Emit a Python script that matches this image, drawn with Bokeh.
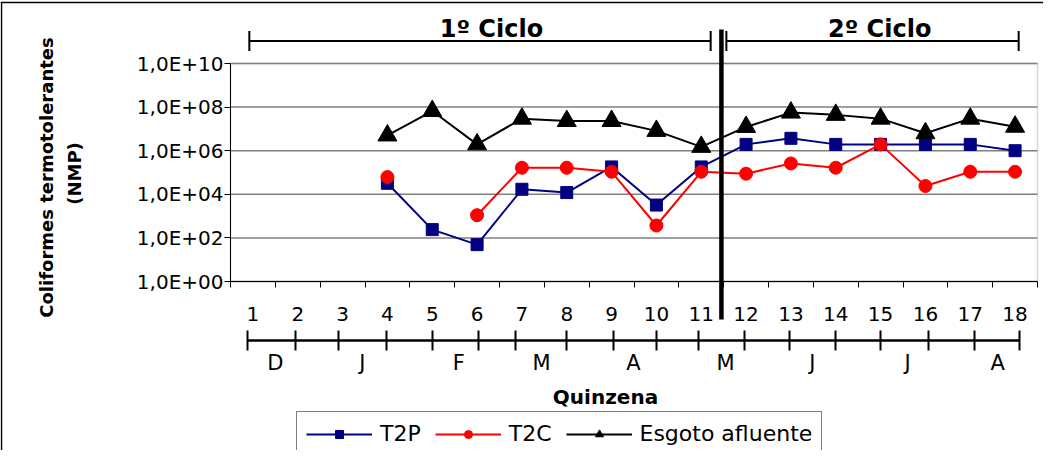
import math
from bokeh.plotting import figure
from bokeh.models import (Range1d, FixedTicker, CustomJSTickFormatter, Label, LinearAxis,
                          ColumnDataSource, Arrow, TeeHead, Legend, LegendItem, BoxAnnotation)
from bokeh.embed import file_html
from bokeh.resources import INLINE

# ---------------- data ----------------
quinzenas = list(range(1, 19))
quinzena_labels = [str(q) for q in quinzenas]
t2p = [None, None, None, 3.2e4, 2.4e2, 49, 1.7e4, 1.2e4, 1.8e5, 3.2e3, 1.8e5,
       1.95e6, 3.7e6, 1.95e6, 1.95e6, 1.95e6, 1.95e6, 1.0e6]
t2c = [None, None, None, 6.2e4, None, 1.1e3, 1.65e5, 1.65e5, 1.08e5, 3.7e2, 1.08e5,
       8.8e4, 2.6e5, 1.65e5, 1.95e6, 2.4e4, 1.08e5, 1.08e5]
esgoto = [None, None, None, 5.0e6, 6.6e7, 1.95e6, 2.95e7, 2.3e7, 2.3e7, 8.1e6, 1.5e6,
          1.23e7, 5.6e7, 4.4e7, 2.95e7, 6.3e6, 2.95e7, 1.26e7]
series_names = ["T2P", "T2C", "Esgoto afluente"]
y_tick_values = [1, 1e2, 1e4, 1e6, 1e8, 1e10]
y_tick_labels = ["1,0E+00", "1,0E+02", "1,0E+04", "1,0E+06", "1,0E+08", "1,0E+10"]
month_labels = ["D", "J", "F", "M", "A", "M", "J", "J", "A"]
month_label_pos = [1.50, 3.44, 5.59, 7.44, 9.49, 11.54, 13.48, 15.60, 17.61]
month_tick_pos = [0.88, 1.95, 2.91, 3.98, 5.01, 6.03, 6.86, 8.00, 9.04, 10.00,
                  10.94, 11.97, 12.97, 14.00, 15.00, 16.07, 17.10, 18.10]
cycle_labels = ["1º Ciclo", "2º Ciclo"]
cycle_label_pos = [6.32, 14.98]
cycle_spans = [(0.92, 11.21), (11.56, 18.08)]
cycle_divider = 11.45

# ---------------- layout helpers (screenshot px -> data) ----------------
W, H, PAGE = 1043, 450, 8
FL, FR, FT, FB = 238, 1045, 71, 289   # plot area edges in screenshot px


def xd(px):
    return 0.5 + (px - FL) * 18.0 / (FR - FL)


def yd(py):
    return 10 ** (10.0 * (FB - py) / (FB - FT))


def nan(v):
    return [float("nan") if x is None else x for x in v]


def lin_fmt(vals, labs):
    return CustomJSTickFormatter(args=dict(vals=vals, labs=labs), code="""
let best = -1, bd = 1e9;
for (let i = 0; i < vals.length; i++) {
  const d = Math.abs(vals[i] - tick);
  if (d < bd) { bd = d; best = i; }
}
return bd < 1e-6 ? labs[best] : "";
""")


def log_fmt(vals, labs):
    return CustomJSTickFormatter(args=dict(vals=vals, labs=labs), code="""
let best = -1, bd = 1e9;
for (let i = 0; i < vals.length; i++) {
  const d = Math.abs(Math.log10(vals[i]) - Math.log10(tick));
  if (d < bd) { bd = d; best = i; }
}
return bd < 1e-6 ? labs[best] : "";
""")


src = ColumnDataSource(dict(x=quinzenas, t2p=nan(t2p), t2c=nan(t2c), esg=nan(esgoto)))

# the frame covers the whole canvas; the plot area is 0.5..18.5 x 1..1e10
p = figure(width=W, height=H, output_backend="svg", toolbar_location=None,
           x_range=Range1d(xd(PAGE), xd(PAGE + W)),
           y_range=Range1d(yd(PAGE + H), yd(PAGE)), y_axis_type="log",
           min_border=0, background_fill_color="white", border_fill_color="white",
           outline_line_color=None)
p.xgrid.visible = False
p.ygrid.visible = False

# plot-area border and horizontal gridlines
p.add_layout(BoxAnnotation(left=0.5, right=18.5, bottom=1, top=1e10, fill_alpha=0,
                           line_color="#808080", line_width=1.5, level="underlay"))
p.segment(x0=0.5, x1=18.5, y0=y_tick_values, y1=y_tick_values,
          line_color="#808080", line_width=1.5)

# y axis
ya = p.yaxis[0]
ya.fixed_location = 0.5
ya.bounds = (1, 1e10)
ya.ticker = FixedTicker(ticks=y_tick_values)
ya.formatter = log_fmt(y_tick_values, y_tick_labels)
ya.major_label_text_font = "DejaVu Sans"
ya.major_label_text_font_size = "20px"
ya.major_label_text_color = "black"
ya.major_tick_out = 6
ya.major_tick_in = 0
ya.minor_tick_out = 0
ya.minor_tick_in = 0
ya.axis_line_color = "black"
ya.major_tick_line_color = "black"
ya.major_label_standoff = 1

# x axis: numbers at category centres, tick marks between categories
xa = p.xaxis[0]
xa.fixed_location = 1
xa.bounds = (0.5, 18.5)
xa.ticker = FixedTicker(ticks=quinzenas, minor_ticks=[q - 0.5 for q in quinzenas] + [18.5])
xa.formatter = lin_fmt(quinzenas, quinzena_labels)
xa.major_tick_line_color = None
xa.major_tick_out = 0
xa.major_tick_in = 0
xa.minor_tick_out = 6
xa.minor_tick_in = 0
xa.minor_tick_line_color = "black"
xa.axis_line_color = "black"
xa.major_label_standoff = 19
xa.major_label_text_font = "DejaVu Sans"
xa.major_label_text_font_size = "20px"
xa.major_label_text_color = "black"

# month axis
ma = LinearAxis(fixed_location=yd(348), bounds=(month_tick_pos[0], month_tick_pos[-1]),
                ticker=FixedTicker(ticks=month_label_pos, minor_ticks=month_tick_pos),
                formatter=lin_fmt(month_label_pos, month_labels),
                major_tick_line_color=None, major_tick_out=0, major_tick_in=0,
                minor_tick_out=10, minor_tick_in=10, minor_tick_line_color="black",
                minor_tick_line_width=2, axis_line_color="black", axis_line_width=2.5,
                major_label_standoff=0, major_label_text_font="DejaVu Sans",
                major_label_text_font_size="21px", major_label_text_color="black")
p.add_layout(ma, "below")

# series
l1 = p.line("x", "t2p", source=src, line_color="#000080", line_width=2)
m1 = p.scatter("x", "t2p", source=src, marker="square", size=12,
               fill_color="#000080", line_color="#000080")
l2 = p.line("x", "t2c", source=src, line_color="#FF0000", line_width=2)
m2 = p.scatter("x", "t2c", source=src, marker="circle", size=13,
               fill_color="#FF0000", line_color="#FF0000")
l3 = p.line("x", "esg", source=src, line_color="black", line_width=2)
m3 = p.scatter("x", "esg", source=src, marker="triangle", size=19,
               fill_color="black", line_color="black")

legend = Legend(items=[LegendItem(label=series_names[0], renderers=[l1, m1]),
                       LegendItem(label=series_names[1], renderers=[l2, m2]),
                       LegendItem(label=series_names[2], renderers=[l3, m3])],
                location=(304 - PAGE, (PAGE + H) - 464), orientation="horizontal",
                glyph_width=66, glyph_height=20, label_standoff=8, spacing=14,
                padding=9, label_text_font="DejaVu Sans", label_text_font_size="22px",
                label_text_color="black", border_line_color="black", border_line_width=1,
                background_fill_color="white", background_fill_alpha=1.0)
p.add_layout(legend)

# axis titles
p.add_layout(Label(x=xd(613), y=yd(404), text="Quinzena", text_align="center",
                   text_baseline="middle", text_font="DejaVu Sans", text_font_size="20px",
                   text_font_style="bold", text_color="black"))
p.add_layout(Label(x=xd(54), y=yd(185), text="Coliformes termotolerantes",
                   angle=math.pi / 2, text_align="center", text_baseline="middle",
                   text_font="DejaVu Sans", text_font_size="18px", text_font_style="bold",
                   text_color="black"))
p.add_layout(Label(x=xd(82), y=yd(181), text="(NMP)",
                   angle=math.pi / 2, text_align="center", text_baseline="middle",
                   text_font="DejaVu Sans", text_font_size="18px", text_font_style="bold",
                   text_color="black"))

# cycles
for lab, cx, (a, b) in zip(cycle_labels, cycle_label_pos, cycle_spans):
    p.add_layout(Arrow(x_start=a, x_end=b, y_start=yd(48.5), y_end=yd(48.5),
                       start=TeeHead(size=20, line_width=2, line_color="black"),
                       end=TeeHead(size=20, line_width=2, line_color="black"),
                       line_color="black", line_width=2))
    p.add_layout(Label(x=cx, y=yd(36), text=lab, text_align="center",
                       text_baseline="middle", text_font="DejaVu Sans",
                       text_font_size="24px", text_font_style="bold", text_color="black"))
p.add_layout(Arrow(x_start=cycle_divider, x_end=cycle_divider, y_start=yd(37), y_end=yd(327),
                   start=None, end=None, line_color="black", line_width=4.5))

# outer frame of the chart area (top and left edges)
p.add_layout(Arrow(x_start=xd(8), x_end=xd(1052), y_start=yd(10), y_end=yd(10),
                   start=None, end=None, line_color="black", line_width=1.5))
p.add_layout(Arrow(x_start=xd(9), x_end=xd(9), y_start=yd(10), y_end=yd(470),
                   start=None, end=None, line_color="black", line_width=1.5))

open("out.html", "w").write(file_html(p, INLINE))
